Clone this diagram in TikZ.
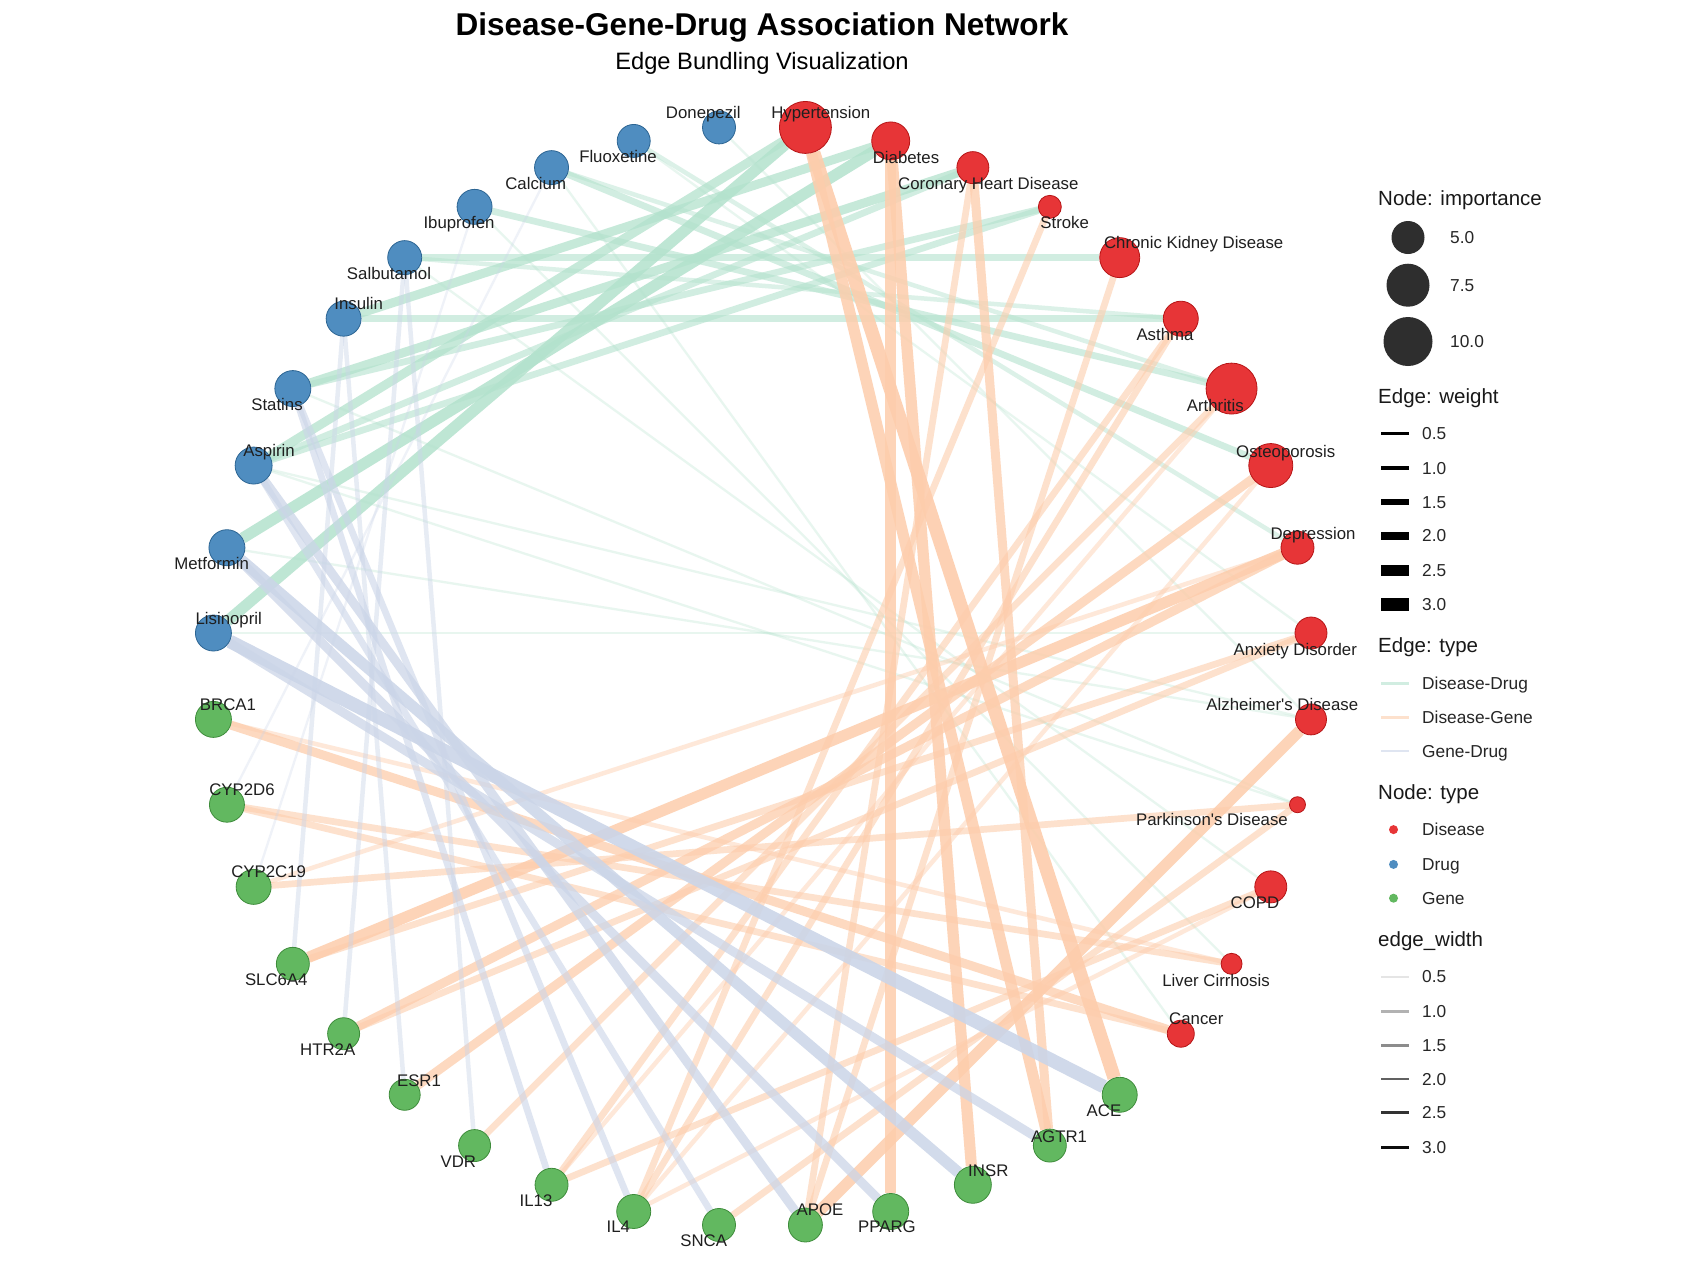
\documentclass[tikz,border=0pt]{standalone}
\usepackage{fontspec}
\setmainfont{Liberation Sans}
\usetikzlibrary{backgrounds}

\definecolor{disred}{HTML}{E41A1C}
\definecolor{drugblue}{HTML}{377EB8}
\definecolor{genegreen}{HTML}{4DAF4A}
\definecolor{ddcol}{HTML}{B3E2CD}
\definecolor{dgcol}{HTML}{FDCDAC}
\definecolor{gdcol}{HTML}{CBD5E8}

\tikzset{
	disease/.style={shape=circle, fill=disred, draw=disred!80!black, line width=0.8, fill opacity=0.88, inner sep=0},
	drug/.style={shape=circle, fill=drugblue, draw=drugblue!80!black, line width=0.8, fill opacity=0.88, inner sep=0},
	gene/.style={shape=circle, fill=genegreen, draw=genegreen!80!black, line width=0.8, fill opacity=0.88, inner sep=0},
	lab/.style={font=\fontsize{16.8}{19}\selectfont, text=black!88, text height=12, text depth=0, inner sep=0},
	legtitle/.style={font=\fontsize{20.5}{24}\selectfont, text=black!90, text height=14.7, text depth=0, inner sep=0, anchor=west},
	legtext/.style={font=\fontsize{17.3}{20}\selectfont, text=black!85, text height=12.4, text depth=0, inner sep=0, anchor=west},
	dd/.style={-, draw=ddcol},
	dg/.style={-, draw=dgcol},
	gd/.style={-, draw=gdcol},
	w05/.style={line width=2.3, draw opacity=0.3},
	w10/.style={line width=4.5, draw opacity=0.45},
	w15/.style={line width=6.7, draw opacity=0.6},
	w20/.style={line width=9, draw opacity=0.75},
	w25/.style={line width=11.2, draw opacity=0.85},
	w30/.style={line width=13.5, draw opacity=0.9},
}

\begin{document}
\begin{tikzpicture}[x=1pt, y=-1pt]
	\useasboundingbox (0,0) rectangle (1707,1280);
	\coordinate (ctr) at (762.2,676.2);

	% title
	\node[font=\bfseries\fontsize{31.5}{36}\selectfont, text height=22.6, text depth=0, inner sep=0] (title) at (762,24) {Disease-Gene-Drug Association Network};
	\node[font=\fontsize{23.7}{28}\selectfont, text height=17, text depth=0, inner sep=0] (subtitle) at (762,61) {Edge Bundling Visualization};

	% diseases
	\node[disease, minimum size=52] (hyp)   at ([shift={(ctr)}]-85.5:550.5) {};
	\node[disease, minimum size=38] (dia)   at ([shift={(ctr)}]-76.5:550.5) {};
	\node[disease, minimum size=32] (chd)   at ([shift={(ctr)}]-67.5:550.5) {};
	\node[disease, minimum size=23] (strk)  at ([shift={(ctr)}]-58.5:550.5) {};
	\node[disease, minimum size=40] (ckd)   at ([shift={(ctr)}]-49.5:550.5) {};
	\node[disease, minimum size=35] (asth)  at ([shift={(ctr)}]-40.5:550.5) {};
	\node[disease, minimum size=51] (arth)  at ([shift={(ctr)}]-31.5:550.5) {};
	\node[disease, minimum size=44] (oste)  at ([shift={(ctr)}]-22.5:550.5) {};
	\node[disease, minimum size=33] (depr)  at ([shift={(ctr)}]-13.5:550.5) {};
	\node[disease, minimum size=32] (anx)   at ([shift={(ctr)}]-4.5:550.5) {};
	\node[disease, minimum size=31] (alz)   at ([shift={(ctr)}]4.5:550.5) {};
	\node[disease, minimum size=16] (park)  at ([shift={(ctr)}]13.5:550.5) {};
	\node[disease, minimum size=32] (copd)  at ([shift={(ctr)}]22.5:550.5) {};
	\node[disease, minimum size=21] (liver) at ([shift={(ctr)}]31.5:550.5) {};
	\node[disease, minimum size=27] (canc)  at ([shift={(ctr)}]40.5:550.5) {};

	% genes
	\node[gene, minimum size=35] (ace)     at ([shift={(ctr)}]49.5:550.5) {};
	\node[gene, minimum size=33] (agtr)    at ([shift={(ctr)}]58.5:550.5) {};
	\node[gene, minimum size=37] (insr)    at ([shift={(ctr)}]67.5:550.5) {};
	\node[gene, minimum size=36] (pparg)   at ([shift={(ctr)}]76.5:550.5) {};
	\node[gene, minimum size=34] (apoe)    at ([shift={(ctr)}]85.5:550.5) {};
	\node[gene, minimum size=33] (snca)    at ([shift={(ctr)}]94.5:550.5) {};
	\node[gene, minimum size=34] (il4)     at ([shift={(ctr)}]103.5:550.5) {};
	\node[gene, minimum size=33] (il13)    at ([shift={(ctr)}]112.5:550.5) {};
	\node[gene, minimum size=32] (vdr)     at ([shift={(ctr)}]121.5:550.5) {};
	\node[gene, minimum size=31] (esr1)    at ([shift={(ctr)}]130.5:550.5) {};
	\node[gene, minimum size=32] (htr2a)   at ([shift={(ctr)}]139.5:550.5) {};
	\node[gene, minimum size=33] (slc6a4)  at ([shift={(ctr)}]148.5:550.5) {};
	\node[gene, minimum size=35] (cyp2c19) at ([shift={(ctr)}]157.5:550.5) {};
	\node[gene, minimum size=35] (cyp2d6)  at ([shift={(ctr)}]166.5:550.5) {};
	\node[gene, minimum size=36] (brca1)   at ([shift={(ctr)}]175.5:550.5) {};

	% drugs
	\node[drug, minimum size=36] (lisin) at ([shift={(ctr)}]184.5:550.5) {};
	\node[drug, minimum size=36] (metf)  at ([shift={(ctr)}]193.5:550.5) {};
	\node[drug, minimum size=37] (aspi)  at ([shift={(ctr)}]202.5:550.5) {};
	\node[drug, minimum size=36] (stat)  at ([shift={(ctr)}]211.5:550.5) {};
	\node[drug, minimum size=35] (insu)  at ([shift={(ctr)}]220.5:550.5) {};
	\node[drug, minimum size=34] (salb)  at ([shift={(ctr)}]229.5:550.5) {};
	\node[drug, minimum size=35] (ibup)  at ([shift={(ctr)}]238.5:550.5) {};
	\node[drug, minimum size=34] (calc)  at ([shift={(ctr)}]247.5:550.5) {};
	\node[drug, minimum size=33] (fluo)  at ([shift={(ctr)}]256.5:550.5) {};
	\node[drug, minimum size=33] (done)  at ([shift={(ctr)}]265.5:550.5) {};

	\begin{scope}[on background layer]
		\fill[white] (0,0) rectangle (1707,1280);

		% disease-drug
		\path [dd, w25] (lisin) edge (hyp);
		\path [dd, w20] (aspi)  edge (hyp);
		\path [dd, w25] (metf)  edge (dia);
		\path [dd, w20] (insu)  edge (dia);
		\path [dd, w20] (stat)  edge (chd);
		\path [dd, w15] (aspi)  edge (chd);
		\path [dd, w15] (stat)  edge (strk);
		\path [dd, w15] (aspi)  edge (strk);
		\path [dd, w15] (salb)  edge (ckd);
		\path [dd, w15] (insu)  edge (asth);
		\path [dd, w10] (salb)  edge (asth);
		\path [dd, w15] (ibup)  edge (arth);
		\path [dd, w10] (calc)  edge (arth);
		\path [dd, w15] (calc)  edge (oste);
		\path [dd, w10] (fluo)  edge (depr);
		\path [dd, w05] (fluo)  edge (anx);
		\path [dd, w05] (done)  edge (alz);
		\path [dd, w05] (lisin) edge (anx);
		\path [dd, w05] (stat)  edge (park);
		\path [dd, w05] (aspi)  edge (alz);
		\path [dd, w05] (aspi)  edge (park);
		\path [dd, w05] (metf)  edge (alz);
		\path [dd, w05] (salb)  edge (copd);
		\path [dd, w05] (ibup)  edge (liver);
		\path [dd, w05] (calc)  edge (canc);

		% disease-gene
		\path [dg, w30] (hyp)   edge (ace);
		\path [dg, w25] (hyp)   edge (agtr);
		\path [dg, w25] (dia)   edge (insr);
		\path [dg, w25] (dia)   edge (pparg);
		\path [dg, w20] (chd)   edge (agtr);
		\path [dg, w15] (chd)   edge (apoe);
		\path [dg, w15] (strk)  edge (il4);
		\path [dg, w15] (ckd)   edge (apoe);
		\path [dg, w15] (asth)  edge (il4);
		\path [dg, w15] (asth)  edge (il13);
		\path [dg, w15] (arth)  edge (vdr);
		\path [dg, w10] (arth)  edge (il13);
		\path [dg, w20] (oste)  edge (esr1);
		\path [dg, w10] (oste)  edge (il4);
		\path [dg, w25] (depr)  edge (slc6a4);
		\path [dg, w20] (depr)  edge (htr2a);
		\path [dg, w10] (depr)  edge (cyp2c19);
		\path [dg, w15] (anx)   edge (slc6a4);
		\path [dg, w15] (anx)   edge (htr2a);
		\path [dg, w25] (alz)   edge (apoe);
		\path [dg, w15] (park)  edge (snca);
		\path [dg, w15] (park)  edge (cyp2c19);
		\path [dg, w15] (copd)  edge (il13);
		\path [dg, w10] (copd)  edge (il4);
		\path [dg, w15] (liver) edge (cyp2d6);
		\path [dg, w10] (liver) edge (brca1);
		\path [dg, w20] (canc)  edge (brca1);
		\path [dg, w15] (canc)  edge (cyp2d6);

		% gene-drug
		\path [gd, w30] (lisin) edge (ace);
		\path [gd, w20] (lisin) edge (agtr);
		\path [gd, w25] (metf)  edge (insr);
		\path [gd, w20] (metf)  edge (pparg);
		\path [gd, w20] (aspi)  edge (apoe);
		\path [gd, w15] (aspi)  edge (snca);
		\path [gd, w15] (stat)  edge (il4);
		\path [gd, w15] (stat)  edge (il13);
		\path [gd, w10] (insu)  edge (slc6a4);
		\path [gd, w10] (insu)  edge (esr1);
		\path [gd, w10] (salb)  edge (htr2a);
		\path [gd, w10] (salb)  edge (vdr);
		\path [gd, w05] (ibup)  edge (cyp2c19);
		\path [gd, w05] (calc)  edge (cyp2d6);
	\end{scope}

	% labels
	\node[lab] (l-done)    at (703.3,112.7)  {Donepezil};
	\node[lab] (l-hyp)     at (820.8,112.7)  {Hypertension};
	\node[lab] (l-dia)     at (906,157.7)    {Diabetes};
	\node[lab] (l-chd)     at (988.3,183.3)  {Coronary Heart Disease};
	\node[lab] (l-strk)    at (1064.7,222.3) {Stroke};
	\node[lab] (l-ckd)     at (1193.7,242.7) {Chronic Kidney Disease};
	\node[lab] (l-asth)    at (1165,334.3)   {Asthma};
	\node[lab] (l-arth)    at (1215.3,405)   {Arthritis};
	\node[lab] (l-oste)    at (1285.7,451)   {Osteoporosis};
	\node[lab] (l-depr)    at (1313,533.3)   {Depression};
	\node[lab] (l-anx)     at (1295.3,649)   {Anxiety Disorder};
	\node[lab] (l-alz)     at (1282.3,704.3) {Alzheimer\textquotesingle s Disease};
	\node[lab] (l-park)    at (1212,819)     {Parkinson\textquotesingle s Disease};
	\node[lab] (l-copd)    at (1255,902.3)   {COPD};
	\node[lab] (l-liver)   at (1216,980)     {Liver Cirrhosis};
	\node[lab] (l-canc)    at (1196.3,1018.3) {Cancer};
	\node[lab] (l-ace)     at (1104,1110)    {ACE};
	\node[lab] (l-agtr)    at (1059,1136)    {AGTR1};
	\node[lab] (l-insr)    at (988.3,1170)   {INSR};
	\node[lab] (l-pparg)   at (887,1226.7)   {PPARG};
	\node[lab] (l-apoe)    at (820,1209.3)   {APOE};
	\node[lab] (l-snca)    at (703.7,1240)   {SNCA};
	\node[lab] (l-il4)     at (618.3,1226.7) {IL4};
	\node[lab] (l-il13)    at (536,1200)     {IL13};
	\node[lab] (l-vdr)     at (458.3,1161)   {VDR};
	\node[lab] (l-esr1)    at (419,1080)     {ESR1};
	\node[lab] (l-htr2a)   at (327.7,1049.3) {HTR2A};
	\node[lab] (l-slc6a4)  at (276.3,979.3)  {SLC6A4};
	\node[lab] (l-cyp2c19) at (268.7,871.7)  {CYP2C19};
	\node[lab] (l-cyp2d6)  at (242,789.3)    {CYP2D6};
	\node[lab] (l-brca1)   at (228,704)      {BRCA1};
	\node[lab] (l-lisin)   at (228.7,618.3)  {Lisinopril};
	\node[lab] (l-metf)    at (211.7,563.3)  {Metformin};
	\node[lab] (l-aspi)    at (269,450)      {Aspirin};
	\node[lab] (l-stat)    at (277,404.3)    {Statins};
	\node[lab] (l-insu)    at (358.7,303.3)  {Insulin};
	\node[lab] (l-salb)    at (389,273.3)    {Salbutamol};
	\node[lab] (l-ibup)    at (459,222.7)    {Ibuprofen};
	\node[lab] (l-calc)    at (535.7,183.3)  {Calcium};
	\node[lab] (l-fluo)    at (618,156.7)    {Fluoxetine};

	% legend: node importance
	\node[legtitle] (t-imp) at (1378,198) {Node: importance};
	\node[circle, fill=black!82, inner sep=0, minimum size=33] (k-imp5)  at (1408,237.5) {};
	\node[circle, fill=black!82, inner sep=0, minimum size=43] (k-imp75) at (1408,285.2) {};
	\node[circle, fill=black!82, inner sep=0, minimum size=49] (k-imp10) at (1408,341.5) {};
	\node[legtext] (v-imp5)  at (1450,237.5) {5.0};
	\node[legtext] (v-imp75) at (1450,285.2) {7.5};
	\node[legtext] (v-imp10) at (1450,341.5) {10.0};

	% legend: edge weight
	\node[legtitle] (t-wt) at (1378,396.5) {Edge: weight};
	\draw[line width=2.2]  (1381,433.5) -- (1409,433.5);
	\draw[line width=3.6]  (1381,468.2) -- (1409,468.2);
	\draw[line width=5.6]  (1381,501.9) -- (1409,501.9);
	\draw[line width=7.8]  (1381,535.6) -- (1409,535.6);
	\draw[line width=10.5] (1381,570.3) -- (1409,570.3);
	\draw[line width=13.5] (1381,604.3) -- (1409,604.3);
	\node[legtext] (v-wt05) at (1422,433.5) {0.5};
	\node[legtext] (v-wt10) at (1422,468.2) {1.0};
	\node[legtext] (v-wt15) at (1422,501.9) {1.5};
	\node[legtext] (v-wt20) at (1422,535.6) {2.0};
	\node[legtext] (v-wt25) at (1422,570.3) {2.5};
	\node[legtext] (v-wt30) at (1422,604.3) {3.0};

	% legend: edge type
	\node[legtitle] (t-etype) at (1378,645.6) {Edge: type};
	\draw[ddcol, line width=2.5, opacity=0.6] (1381,683.7) -- (1409,683.7);
	\draw[dgcol, line width=2.5, opacity=0.6] (1381,717.4) -- (1409,717.4);
	\draw[gdcol, line width=2.5, opacity=0.6] (1381,751.2) -- (1409,751.2);
	\node[legtext] (v-dd) at (1422,683.7) {Disease-Drug};
	\node[legtext] (v-dg) at (1422,717.4) {Disease-Gene};
	\node[legtext] (v-gd) at (1422,751.2) {Gene-Drug};

	% legend: node type
	\node[legtitle] (t-ntype) at (1378,792.6) {Node: type};
	\node[disease, minimum size=9, draw=none] (k-dis)  at (1393.5,829.6) {};
	\node[drug, minimum size=9, draw=none]    (k-drug) at (1393.5,864.4) {};
	\node[gene, minimum size=9, draw=none]    (k-gene) at (1393.5,898.2) {};
	\node[legtext] (v-dis)  at (1422,829.6) {Disease};
	\node[legtext] (v-drug) at (1422,864.4) {Drug};
	\node[legtext] (v-gene) at (1422,898.2) {Gene};

	% legend: edge_width
	\node[legtitle] (t-ew) at (1378,939.5) {edge\_width};
	\draw[black, line width=2.2, opacity=0.1]  (1381,976.6)  -- (1409,976.6);
	\draw[black, line width=2.4, opacity=0.3]  (1381,1011.4) -- (1409,1011.4);
	\draw[black, line width=2.6, opacity=0.45] (1381,1045.2) -- (1409,1045.2);
	\draw[black, line width=2.8, opacity=0.62] (1381,1078.9) -- (1409,1078.9);
	\draw[black, line width=3.0, opacity=0.8]  (1381,1112.7) -- (1409,1112.7);
	\draw[black, line width=3.2, opacity=0.95] (1381,1147.5) -- (1409,1147.5);
	\node[legtext] (v-ew05) at (1422,976.6)  {0.5};
	\node[legtext] (v-ew10) at (1422,1011.4) {1.0};
	\node[legtext] (v-ew15) at (1422,1045.2) {1.5};
	\node[legtext] (v-ew20) at (1422,1078.9) {2.0};
	\node[legtext] (v-ew25) at (1422,1112.7) {2.5};
	\node[legtext] (v-ew30) at (1422,1147.5) {3.0};
\end{tikzpicture}
\end{document}
